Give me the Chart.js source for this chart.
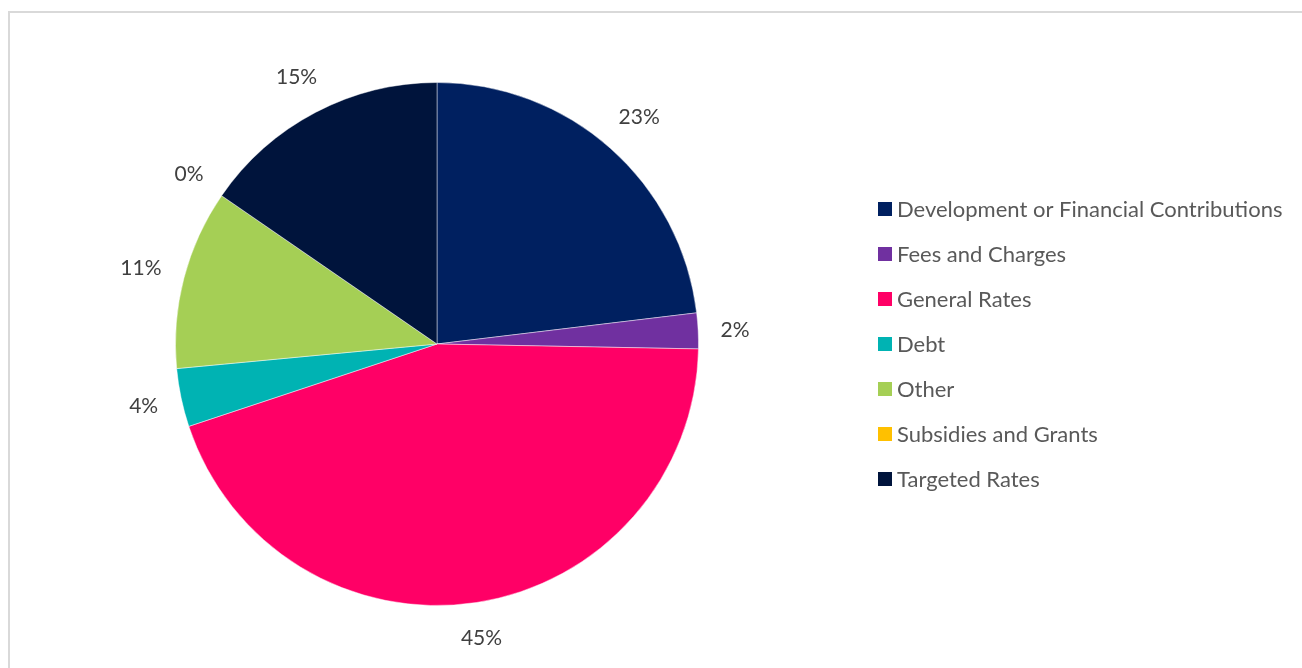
<!DOCTYPE html>
<html>
<head>
<meta charset="utf-8">
<script src="https://cdn.jsdelivr.net/npm/chart.js@4"></script>
<style>
  body { margin: 0; background: #fff; overflow: hidden; }
  #frame { position: absolute; left: 8px; top: 11px; width: 1400px; height: 800px; border: 2px solid #d9d9d9; }
  #pie { position: absolute; left: 0; top: 0; }
</style>
</head>
<body>
<div id="frame"></div>
<canvas id="pie" width="1302" height="668"></canvas>
<script>
const categories = [
    "Development or Financial Contributions",
    "Fees and Charges",
    "General Rates",
    "Debt",
    "Other",
    "Subsidies and Grants",
    "Targeted Rates"
];
const shares = [23.1, 2.2, 44.6, 3.6, 11.1, 0, 15.4];
const sliceColors = ["#002060", "#7030A0", "#FF0066", "#00B3B3", "#A5CF55", "#FFC000", "#00143C"];

const fontName = "Lato, 'Noto Sans', sans-serif";

// percent labels just outside each slice, box kept a small gap off the edge
const outsideLabels = {
    id: "outsideLabels",
    afterDatasetsDraw(chart) {
        const { ctx } = chart;
        const meta = chart.getDatasetMeta(0);
        const total = shares.reduce((a, b) => a + b, 0);
        ctx.save();
        ctx.font = `21px ${fontName}`;
        ctx.fillStyle = "#404040";
        ctx.textAlign = "center";
        ctx.textBaseline = "middle";
        meta.data.forEach((arc, i) => {
            const text = `${Math.round(shares[i] / total * 100)}%`;
            const w = ctx.measureText(text).width;
            const h = 20;
            const mid = (arc.startAngle + arc.endAngle) / 2;
            const cx = Math.cos(mid), cy = Math.sin(mid);
            const dist = arc.outerRadius + 22 + Math.abs(cx) * w / 2 + Math.abs(cy) * h / 2;
            ctx.fillText(text, arc.x + cx * dist, arc.y + cy * dist + 1);
        });
        ctx.restore();
    }
};

// legend on the right
const sideLegend = {
    id: "sideLegend",
    afterDraw(chart) {
        const { ctx } = chart;
        ctx.save();
        ctx.font = `22px ${fontName}`;
        ctx.textBaseline = "middle";
        categories.forEach((name, i) => {
            const y = 209 + i * 45;
            ctx.fillStyle = sliceColors[i];
            ctx.fillRect(878, y - 7, 14, 14);
            ctx.fillStyle = "#595959";
            ctx.fillText(name, 897, y + 1);
        });
        ctx.restore();
    }
};

const canvas = document.getElementById("pie");
new Chart(canvas, {
    type: "pie",
    data: {
        labels: categories,
        datasets: [{
            data: shares,
            backgroundColor: sliceColors,
            borderColor: "rgba(255,255,255,0.45)",
            borderWidth: 1
        }]
    },
    options: {
        responsive: false,
        animation: false,
        layout: { padding: { left: 175, right: 603, top: 82, bottom: 62 } },
        plugins: {
            legend: { display: false },
            tooltip: { enabled: false }
        }
    },
    plugins: [outsideLabels, sideLegend]
});
</script>
</body>
</html>
